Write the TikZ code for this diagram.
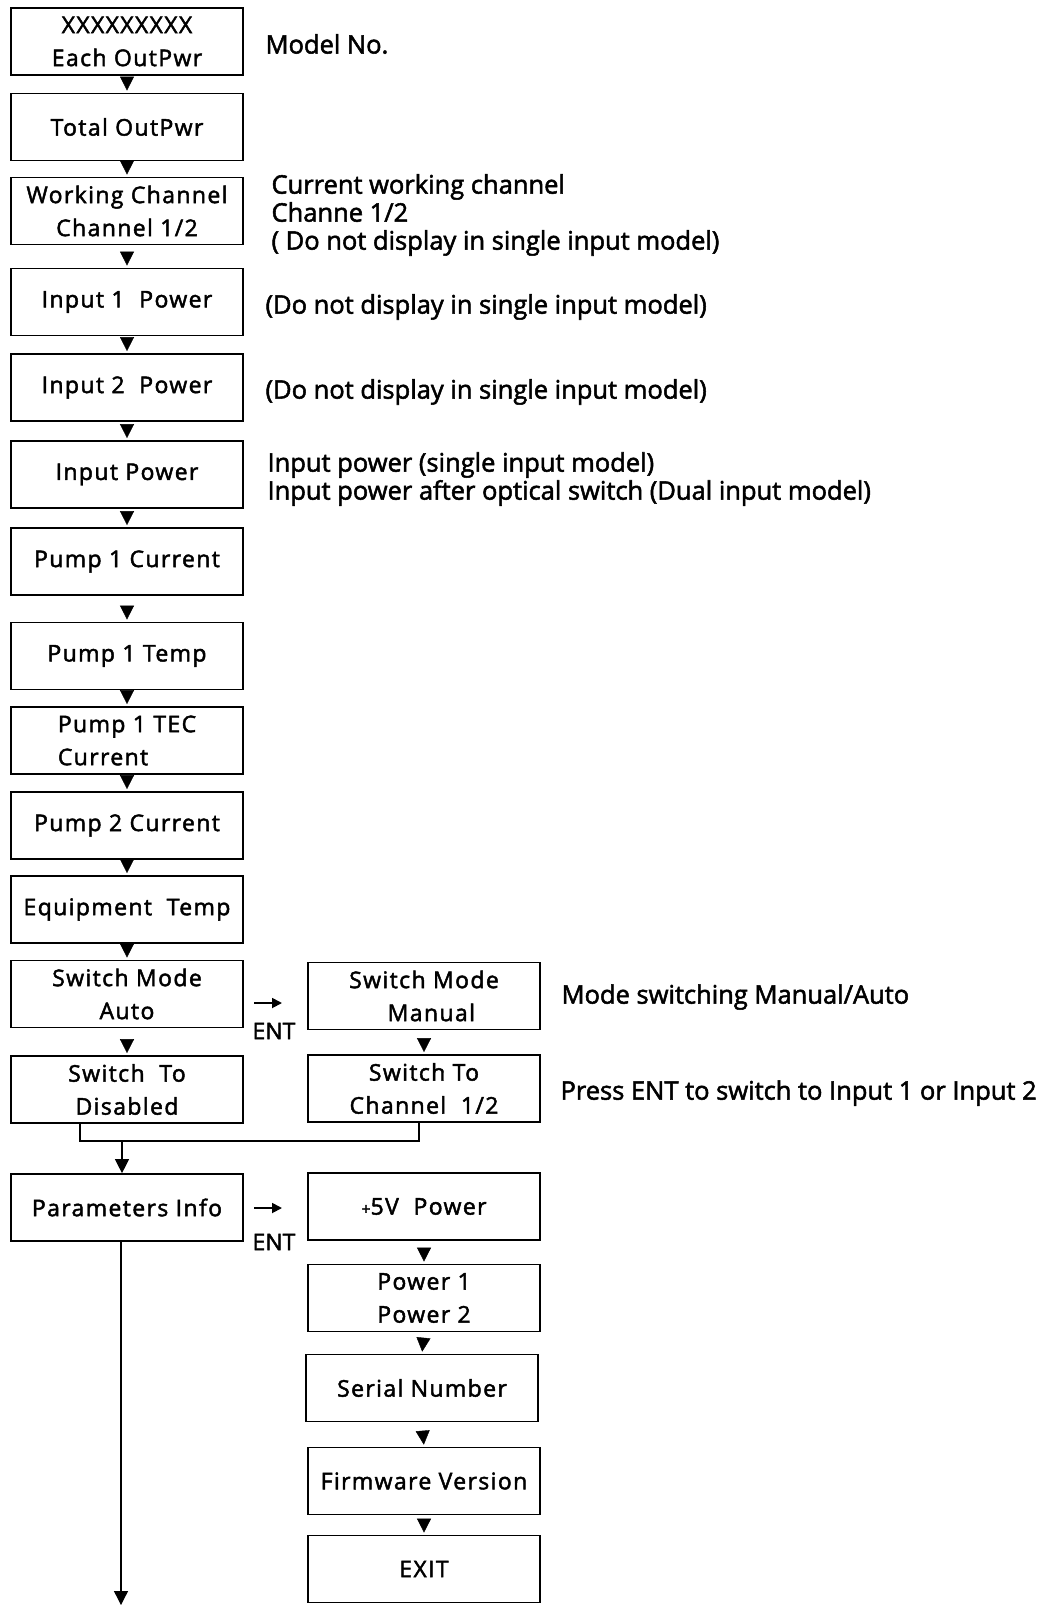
\documentclass[tikz,border=0pt]{standalone}
\usepackage{fontspec}
\setmainfont{Open Sans}[FakeBold=2]
\newfontfamily\boxfont[LetterSpace=6,FakeBold=2]{Open Sans}
\usetikzlibrary{positioning,calc,arrows.meta,decorations.markings}

\begin{document}
\begin{tikzpicture}[x=1pt,y=-1pt,
    box/.style={draw, line width=1.7pt, minimum width=232pt, minimum height=67pt, inner sep=2pt, align=center, font={\boxfont\fontsize{23}{33}\selectfont}},
    note/.style={anchor=west, align=left, font={\fontsize{25.5}{28}\selectfont}},
    flow/.style={postaction={decorate}, decoration={markings, mark=at position -2pt with {\arrow{Triangle[length=14pt,width=14pt]}}}},
    tip/.style={line width=1.3pt, -{Triangle[length=14pt,width=14pt]}},
    enter/.style={line width=1.8pt, -{Triangle[length=10pt,width=10pt]}}]
    \useasboundingbox (0,0) rectangle (1041,1606);

    % Main menu
    \node[box] (b1) at (127,41.5) {XXXXXXXXX\\Each OutPwr};
    \node[box] (b2) at (127,127) {Total OutPwr};
    \node[box] (b3) at (127,211) {Working Channel\\Channel 1/2};
    \node[box] (b4) at (127,302) {Input 1\ \ Power};
    \node[box] (b5) at (127,387.5) {Input 2\ \ Power};
    \node[box] (b6) at (127,474.5) {Input Power};
    \node[box] (b7) at (127,561.5) {Pump 1 Current};
    \node[box] (b8) at (127,656) {Pump 1 Temp};
    \node[box, align=left] (b9) at (127,740.5) {Pump 1 TEC\\Current\hspace{3em}};
    \node[box] (b10) at (127,825.5) {Pump 2 Current};
    \node[box] (b11) at (127,909.5) {Equipment\ \ Temp};
    \node[box] (b12) at (127,994) {Switch Mode\\Auto};
    \node[box] (b13) at (127,1089.5) {Switch\ \ To\\Disabled};
    \node[box] (par) at (127,1207.5) {Parameters Info};

    % Sub menus
    \node[box] (r1) at (424,996) {Switch Mode\\\ \ Manual};
    \node[box] (r2) at (424,1088.5) {Switch To\\Channel\ \ 1/2};
    \node[box] (r3) at (424,1206.5) {{\fontsize{16}{16}\selectfont+}5V\ \ Power};
    \node[box] (r4) at (424,1298) {Power 1\\Power 2};
    \node[box] (r5) at (422,1388) {Serial Number};
    \node[box] (r6) at (424,1481) {Firmware Version};
    \node[box] (r7) at (424,1569) {EXIT};

    % Notes
    \node[note] (n1) at (262,44) {Model No.};
    \node[note] (n2) at (268,215) {Current working channel\\Channe 1/2\\( Do not display in single input model)};
    \node[note] (n3) at (262,307) {(Do not display in single input model)};
    \node[note] (n4) at (262,392) {(Do not display in single input model)};
    \node[note] (n5) at (264,479) {Input power (single input model)\\Input power after optical switch (Dual input model)};
    \node[note] (n6) at (558,997) {Mode switching Manual/Auto};
    \node[note] (n7) at (557,1093) {Press ENT to switch to Input 1 or Input 2};

    % Flow
    \foreach \a/\b in {b1/b2,b2/b3,b3/b4,b4/b5,b5/b6,b6/b7,b7/b8,b8/b9,b9/b10,b10/b11,b11/b12,b12/b13,r1/r2,r3/r4,r4/r5,r5/r6,r6/r7}
        \path[flow] (\a.south) -- (\b.north);

    % ENT keys
    \node[font={\fontsize{23}{26}\selectfont}] (ent1) at (274,1031) {ENT};
    \draw[enter] ([shift={(-20,-28)}]ent1.center) -- ([shift={(8,-28)}]ent1.center);
    \node[font={\fontsize{23}{26}\selectfont}] (ent2) at (274,1242) {ENT};
    \draw[enter] ([shift={(-20,-34)}]ent2.center) -- ([shift={(8,-34)}]ent2.center);

    % Merge to Parameters Info
    \coordinate (m1) at (80,1141);
    \coordinate (m2) at (419,1141);
    \coordinate (mrg) at (122,1141);
    \draw[line width=1.3pt] (b13.south -| m1) -- (m1) -- (m2) -- (r2.south -| m2);
    \draw[tip] (mrg) -- (par.north -| mrg);

    % Exit of main menu
    \coordinate (end) at (121,1605);
    \draw[tip] (par.south -| end) -- (end);
\end{tikzpicture}
\end{document}
